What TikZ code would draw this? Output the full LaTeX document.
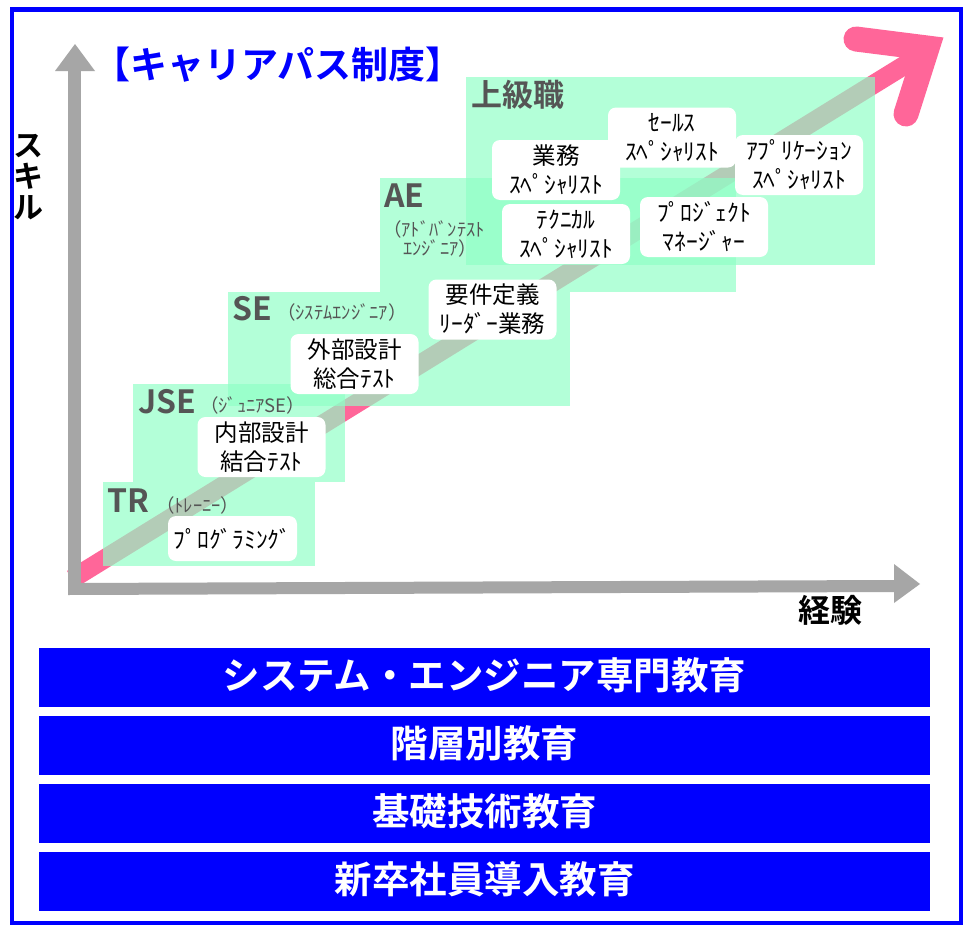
\documentclass[tikz,border=0pt]{standalone}
\usepackage{fontspec}
\setmainfont{Noto Sans CJK JP}[BoldFont={Noto Sans CJK JP Bold}]
\definecolor{framebl}{RGB}{0,0,255}
\definecolor{axisgray}{RGB}{166,166,166}
\definecolor{arrowpink}{RGB}{255,102,153}
\definecolor{boxgreen}{RGB}{142,255,198}
\definecolor{labgray}{RGB}{85,85,85}
\tikzset{
  gbox/.style={fill=boxgreen,fill opacity=0.67,draw=none},
  wbox/.style={fill=white,draw=none,rounded corners=8pt,minimum width=128pt,minimum height=60pt,
    align=center,inner sep=0pt,font=\fontsize{23.5}{29}\selectfont},
  biglab/.style={anchor=base west,inner sep=0pt,text=labgray,font=\fontsize{32}{32}\selectfont\bfseries},
  smlab/.style={anchor=base west,inner sep=0pt,text=labgray,font=\fontsize{18.5}{20}\selectfont},
  bar/.style={fill=framebl,draw=none,minimum width=891pt,minimum height=59pt,inner sep=0pt,
    text=white,font=\fontsize{37.5}{37.5}\selectfont\bfseries},
}
\begin{document}
\begin{tikzpicture}[x=1pt,y=-1pt]
\useasboundingbox (0,0) rectangle (964,926);
\fill[white] (0,0) rectangle (964,926);
% frame
\draw[framebl,line width=4.5pt] (12,9.5) rectangle (961,923);
% pink arrow
\draw[arrowpink,line width=19pt] (72,579) -- (926,52);
\draw[arrowpink,line width=25pt,line cap=round,line join=miter] (856,39) -- (927,48) -- (906,114);
% axes
\fill[axisgray] (68,71) rectangle (81,590);
\fill[axisgray] (55,71) -- (75,44) -- (95,71) -- cycle;
\fill[axisgray] (68,583) -- (894,580) -- (894,592) -- (68,595) -- cycle;
\fill[axisgray] (894,564) -- (920,584) -- (894,603) -- cycle;
% green boxes
\path[gbox] (103,482) rectangle (315,566);
\path[gbox] (133,384) rectangle (345,482);
\path[gbox] (228,292) rectangle (570,406);
\path[gbox] (380,178) rectangle (736,292);
\path[gbox] (466,77) rectangle (875,265);
% level labels
\node[biglab] (tr) at (107,512) {TR};
\node[smlab] (trs) at (156,512) {（ﾄﾚｰﾆｰ）};
\node[biglab] (jse) at (138,413) {JSE};
\node[smlab] (jses) at (200,412) {（ｼﾞｭﾆｱSE）};
\node[biglab] (se) at (232,320) {SE};
\node[smlab] (ses) at (277,319) {（ｼｽﾃﾑｴﾝｼﾞﾆｱ）};
\node[biglab] (ae) at (384,207) {AE};
\node[smlab] (aes1) at (383,236) {（ｱﾄﾞﾊﾞﾝﾃｽﾄ};
\node[smlab] (aes2) at (403,255) {ｴﾝｼﾞﾆｱ）};
\node[anchor=base west,inner sep=0pt,text=labgray,font=\fontsize{31}{31}\selectfont\bfseries] (jk) at (471,106) {上級職};
% white boxes
\node[wbox,minimum width=129pt,minimum height=45pt] (prog) at (232.5,538.5) {ﾌﾟﾛｸﾞﾗﾐﾝｸﾞ};
\node[wbox] (naibu) at (261.5,447) {内部設計\\結合ﾃｽﾄ};
\node[wbox] (gaibu) at (354.5,364) {外部設計\\総合ﾃｽﾄ};
\node[wbox] (yoken) at (492.5,309.5) {要件定義\\ﾘｰﾀﾞｰ業務};
\node[wbox] (gyomu) at (556,170) {業務\\ｽﾍﾟｼｬﾘｽﾄ};
\node[wbox] (sales) at (672,137.5) {ｾｰﾙｽ\\ｽﾍﾟｼｬﾘｽﾄ};
\node[wbox] (appli) at (799,165) {ｱﾌﾟﾘｹｰｼｮﾝ\\ｽﾍﾟｼｬﾘｽﾄ};
\node[wbox] (tech) at (566,234) {ﾃｸﾆｶﾙ\\ｽﾍﾟｼｬﾘｽﾄ};
\node[wbox] (pm) at (704,227) {ﾌﾟﾛｼﾞｪｸﾄ\\ﾏﾈｰｼﾞｬｰ};
% title and axis labels
\node[text=framebl,font=\fontsize{37}{37}\selectfont\bfseries,inner sep=0pt] (title) at (278,65) {【キャリアパス制度】};
\node[align=center,font=\fontsize{30}{31}\selectfont\bfseries,inner sep=0pt] (skill) at (28,177) {ス\\キ\\ル};
\node[font=\fontsize{32}{32}\selectfont\bfseries,inner sep=0pt] (keiken) at (830,610) {経験};
% education bars
\node[bar] (b1) at (484.5,677) {\raisebox{7pt}{システム・エンジニア専門教育}};
\node[bar] (b2) at (484.5,745) {\raisebox{7pt}{階層別教育}};
\node[bar] (b3) at (484.5,813) {\raisebox{7pt}{基礎技術教育}};
\node[bar] (b4) at (484.5,881) {\raisebox{7pt}{新卒社員導入教育}};
\end{tikzpicture}
\end{document}
